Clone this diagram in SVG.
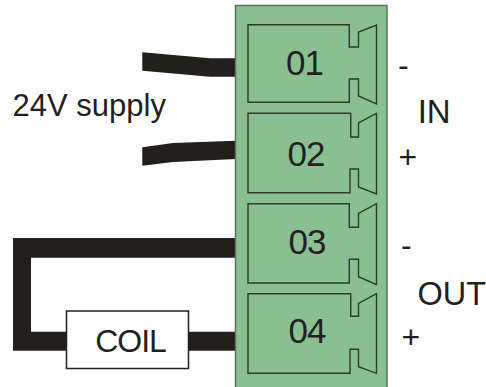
<svg xmlns="http://www.w3.org/2000/svg" width="486" height="387" viewBox="0 0 486 387">
<style>
text{font-family:"Liberation Sans",Arial,sans-serif;fill:#231f20}
.t{font-size:32px}
.n{font-size:35px;letter-spacing:-1px;text-anchor:middle}
.slot{fill:none;stroke:#2f3a2c;stroke-width:1.4}
.w{fill:#231f1a;stroke:none}
</style>
<rect width="486" height="387" fill="#fff"/>
<g id="connectors">
<path class="w" d="M142.3 52.3L210 58.3H236V76.7H210L142.3 70.7Z"/>
<path class="w" d="M142.3 147.3L173 143L236 140.7V159L173 162L142.3 165.7Z"/>
<path class="w" d="M236 238V257.7H31V331.7H236V350.700H13V238Z"/>
</g>
<g id="block"><rect x="235.5" y="5.5" width="151.500" height="383" fill="#8abf92" stroke="#5f6f60" stroke-width="1.500"/></g>
<g id="t01"><path class="slot" d="M349.300 24.700H248V102.300H349.300V79H358.500V96L376.500 104V25L358.500 32V47H349.300Z"/><text class="n" x="304.500" y="75">01</text></g>
<g id="t02"><path class="slot" d="M350.700 113.300H248V192.700H350V169H358.500V187L376.500 194V113.500L358.500 123V137H350.700Z"/><text class="n" x="306" y="165.700">02</text></g>
<g id="t03"><path class="slot" d="M349.300 203.700H248V283H349.300V259.300H358.500V276.700L376.500 284.700V203.700L358.500 213.300V227.300H349.300Z"/><text class="n" x="307" y="254">03</text></g>
<g id="t04"><path class="slot" d="M350.700 293.700H248V373.300H350V349.300H358.500V366.700L376.500 373.300V293.700L358.500 303.300V316.300H350.700Z"/><text class="n" x="307" y="343">04</text></g>
<g id="coil"><rect x="66.500" y="311" width="122" height="57.500" fill="#fff" stroke="#231f20" stroke-width="1.500"/><text x="95.200" y="352.300" font-size="32" letter-spacing="-1">COIL</text></g>
<g id="labels">
<text x="12.500" y="115.700" font-size="31">24V supply</text>
<text class="t" x="398" y="76">-</text>
<text x="417.700" y="122.700" font-size="33">IN</text>
<text class="t" x="398.400" y="167.500">+</text>
<text class="t" x="401" y="256">-</text>
<text x="417.500" y="305" font-size="32.500">OUT</text>
<text class="t" x="401.400" y="347.500">+</text>
</g>
</svg>
